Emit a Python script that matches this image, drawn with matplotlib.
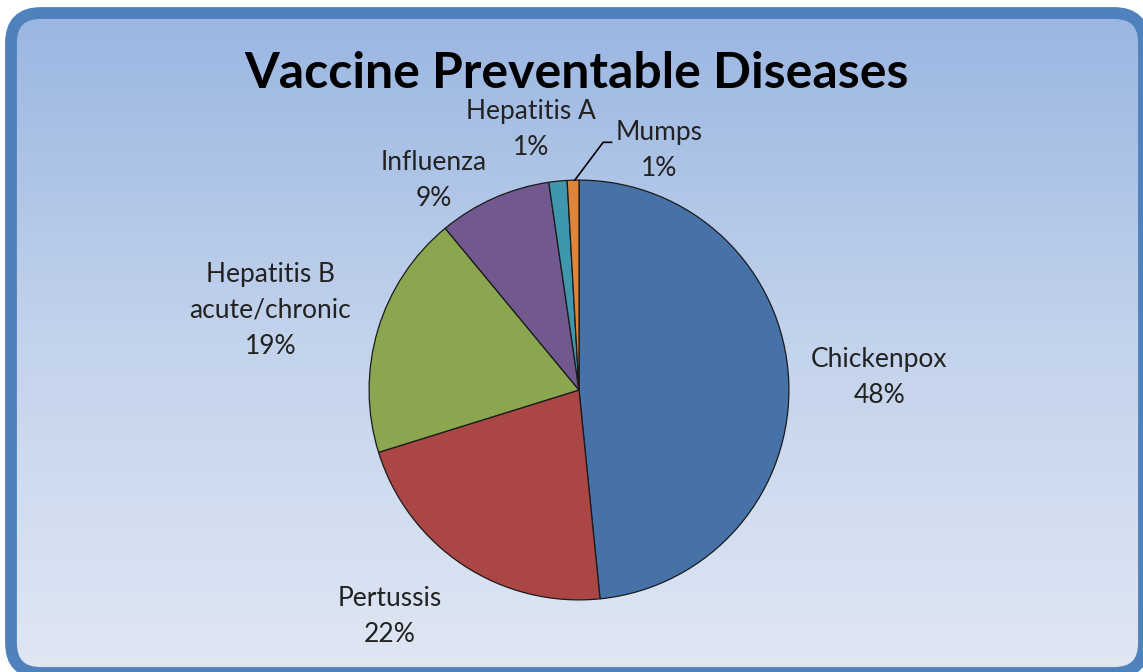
import numpy as np
import matplotlib.pyplot as plt
from matplotlib.patches import FancyBboxPatch
from matplotlib.colors import LinearSegmentedColormap

# ─── data ─────────────────────────────────────────────
diseases = ['Chickenpox', 'Pertussis', 'Hepatitis B\nacute/chronic',
            'Influenza', 'Hepatitis A', 'Mumps']
shares = [48.4, 21.8, 18.8, 8.7, 1.4, 0.9]

colors = ['#4672a8', '#aa4644', '#8aa64f', '#71598f', '#3f97ae', '#de853c']
# label anchor points (pie radius = 1)
label_pos = [(1.43, 0.06), (-0.90, -1.08), (-1.47, 0.38),
             (-0.69, 1.00), (-0.23, 1.24), (0.38, 1.14)]

plt.rcParams['font.family'] = ['Lato', 'DejaVu Sans']

W, H = 1143, 672
fig = plt.figure(figsize=(W / 100, H / 100), dpi=100)
fig.patch.set_facecolor('white')

# ─── background panel ────────────────────────────────
bg = fig.add_axes([0, 0, 1, 1])
bg.set_xlim(0, W)
bg.set_ylim(H, 0)
bg.axis('off')

box = FancyBboxPatch((11, 13), 1133, 660,
                     boxstyle='round,pad=0,rounding_size=30',
                     facecolor='none', edgecolor='#4f81bd', lw=8.5, zorder=3)
grad_cmap = LinearSegmentedColormap.from_list('bg', ['#9ab6e2', '#c3d3ec', '#e0e7f3'])
grad = np.linspace(0, 1, 256).reshape(-1, 1)
im = bg.imshow(grad, cmap=grad_cmap, extent=[11, 1144, 673, 13],
               aspect='auto', zorder=1)
clip = FancyBboxPatch((11, 13), 1133, 660,
                      boxstyle='round,pad=0,rounding_size=30',
                      facecolor='none', edgecolor='none', transform=bg.transData)
im.set_clip_path(clip)
bg.add_patch(box)

bg.text(577, 74, 'Vaccine Preventable Diseases', ha='center', va='center',
        fontsize=36, fontweight='bold', color='black', zorder=4)

# ─── pie ─────────────────────────────────────────────
cx, cy, r = 579, 390, 212
ax = fig.add_axes([(cx - r) / W, (H - cy - r) / H, 2 * r / W, 2 * r / H])
ax.axis('off')

wedges, _ = ax.pie(shares, colors=colors, startangle=90, counterclock=False,
                   radius=1, wedgeprops=dict(edgecolor='#1a1a1a', lw=0.9))
ax.set_xlim(-1.01, 1.01)
ax.set_ylim(-1.01, 1.01)

total = sum(shares)
for name, val, (lx, ly) in zip(diseases, shares, label_pos):
    ax.text(lx, ly, f'{name}\n{round(val / total * 100):.0f}%',
            ha='center', va='center', fontsize=19, color='#222222',
            linespacing=1.55, clip_on=False)

# leader line for the Mumps slice
ax.plot([-0.02, 0.115, 0.155], [1.00, 1.18, 1.18], color='black', lw=1.2,
        clip_on=False)

fig.savefig('out.png', dpi=100)
